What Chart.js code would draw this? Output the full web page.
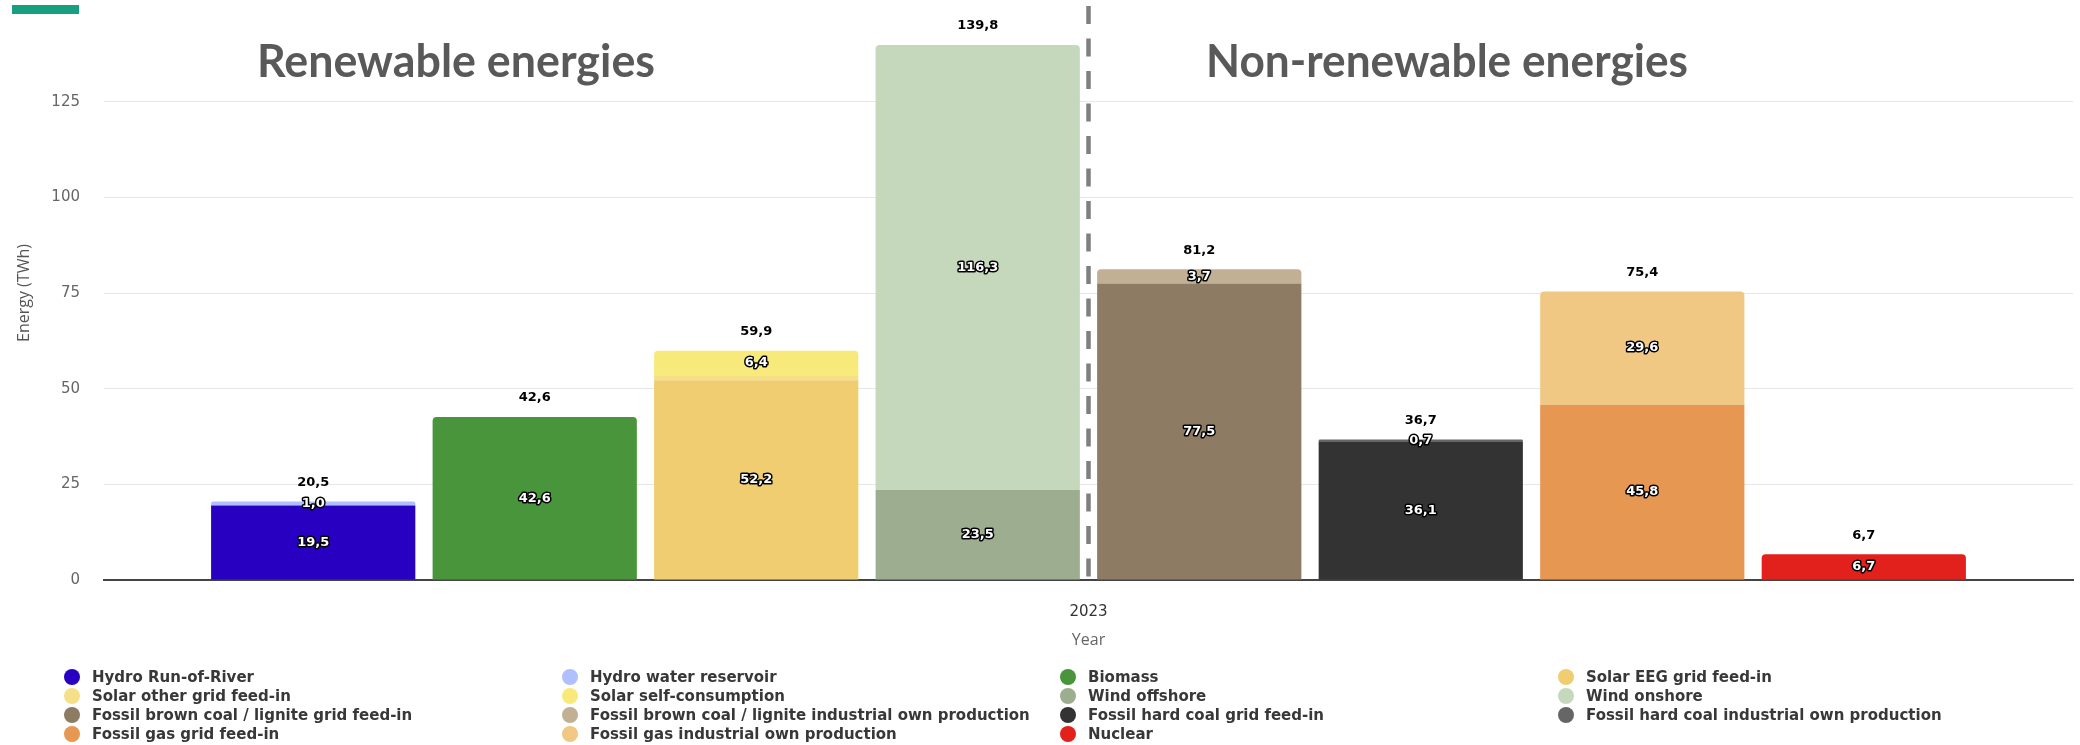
<!DOCTYPE html>
<html>
<head>
<meta charset="utf-8">
<script src="https://cdn.jsdelivr.net/npm/chart.js@4.4.1/dist/chart.umd.min.js"></script>
<style>
  html, body { margin: 0; padding: 0; background: #fff; }
  #wrap { position: relative; width: 2080px; height: 745px; overflow: hidden; }
  #accent { position: absolute; left: 12px; top: 5px; width: 67px; height: 9px; background: #17a07f; }
  #legend {
    position: absolute; left: 64px; top: 667px;
    display: grid; grid-template-columns: repeat(4, 498px); grid-auto-rows: 19px;
    font: bold 15px "DejaVu Sans", sans-serif; color: #383838;
  }
  .item { display: flex; align-items: center; white-space: nowrap; }
  .dot { width: 16px; height: 16px; border-radius: 50%; margin-right: 12px; flex: none; }
</style>
</head>
<body>
<div id="wrap">
  <canvas id="chart" width="2080" height="745"></canvas>
  <div id="accent"></div>
  <div id="legend"></div>
</div>
<script>
// データ
const years = ['2023'];
const sourceNames = [
  'Hydro Run-of-River', 'Hydro water reservoir', 'Biomass', 'Solar EEG grid feed-in',
  'Solar other grid feed-in', 'Solar self-consumption', 'Wind offshore', 'Wind onshore',
  'Fossil brown coal / lignite grid feed-in', 'Fossil brown coal / lignite industrial own production',
  'Fossil hard coal grid feed-in', 'Fossil hard coal industrial own production',
  'Fossil gas grid feed-in', 'Fossil gas industrial own production', 'Nuclear'
];
const stackGroups = [
  'hydro', 'hydro', 'biomass', 'solar', 'solar', 'solar', 'wind', 'wind',
  'brown', 'brown', 'hard', 'hard', 'gas', 'gas', 'nuclear'
];
const energy2023 = [19.5, 1.0, 42.6, 52.2, 1.3, 6.4, 23.5, 116.3, 77.5, 3.7, 36.06, 0.66, 45.8, 29.6, 6.7];
const yTicks = [0, 25, 50, 75, 100, 125];
const sectionTitles = ['Renewable energies', 'Non-renewable energies'];

const sourceColors = [
  '#2800c2', '#b0c0ff', '#48953b', '#f0cd70', '#f5df88', '#f7ea7b', '#9cae8f', '#c6d8bb',
  '#8d7b63', '#c2b095', '#333333', '#666666', '#e69853', '#f0c783', '#e2211c'
];

// 数値表示（小数点はカンマ）
const fmt = v => v.toFixed(1).replace('.', ',');

// 再生可能 / 非再生可能の見出しと区切り線
const sections = {
  id: 'sections',
  afterDatasetsDraw(chart) {
    const ctx = chart.ctx;
    const area = chart.chartArea;
    const mid = chart.scales.x.getPixelForValue(0);
    ctx.save();
    ctx.strokeStyle = '#7f7f7f';
    ctx.lineWidth = 4.5;
    ctx.setLineDash([18, 14.5]);
    ctx.beginPath();
    ctx.moveTo(mid, area.top);
    ctx.lineTo(mid, area.bottom);
    ctx.stroke();
    ctx.setLineDash([]);
    ctx.fillStyle = '#595959';
    ctx.font = 'bold 46px Lato';
    ctx.textAlign = 'left';
    ctx.textBaseline = 'alphabetic';
    ctx.fillText(sectionTitles[0], 257, 77, 398);
    ctx.fillText(sectionTitles[1], 1206, 77, 482);
    ctx.restore();
  }
};

// 各区間の値と合計のラベル（重なるものは省略）
const valueLabels = {
  id: 'valueLabels',
  afterDatasetsDraw(chart) {
    const ctx = chart.ctx;
    const items = [];
    const tops = {};
    chart.data.datasets.forEach((ds, i) => {
      const bar = chart.getDatasetMeta(i).data[0];
      const v = ds.data[0];
      items.push({ x: bar.x, y: (bar.y + bar.base) / 2, text: fmt(v), rank: v, total: false });
      const t = tops[ds.stack] || (tops[ds.stack] = { sum: 0, x: bar.x, y: bar.y });
      t.sum += v;
      t.y = Math.min(t.y, bar.y);
    });
    Object.values(tops).forEach(t => {
      items.push({ x: t.x, y: t.y - 19, text: fmt(t.sum), rank: Infinity, total: true });
    });
    items.sort((a, b) => b.rank - a.rank);

    ctx.save();
    ctx.font = 'bold 13px "DejaVu Sans"';
    ctx.textAlign = 'center';
    ctx.textBaseline = 'middle';
    ctx.lineJoin = 'round';
    const placed = [];
    items.forEach(it => {
      const w = ctx.measureText(it.text).width;
      const box = { l: it.x - w / 2, r: it.x + w / 2, t: it.y - 9, b: it.y + 9 };
      if (placed.some(p => p.l < box.r && box.l < p.r && p.t < box.b && box.t < p.b)) return;
      placed.push(box);
      if (it.total) {
        ctx.fillStyle = '#000';
        ctx.fillText(it.text, it.x, it.y);
      } else {
        ctx.strokeStyle = '#000';
        ctx.lineWidth = 3;
        ctx.strokeText(it.text, it.x, it.y);
        ctx.fillStyle = '#fff';
        ctx.fillText(it.text, it.x, it.y);
      }
    });
    ctx.restore();
  }
};

const datasets = sourceNames.map((name, i) => ({
  label: name,
  data: [energy2023[i]],
  stack: stackGroups[i],
  backgroundColor: sourceColors[i],
  borderRadius: 4,
  categoryPercentage: 0.9,
  barPercentage: 0.922
}));

const chart = new Chart(document.getElementById('chart'), {
  type: 'bar',
  data: { labels: years, datasets: datasets },
  options: {
    responsive: false,
    animation: false,
    layout: { padding: { top: 6, right: 7, bottom: 95, left: 0 } },
    plugins: {
      legend: { display: false },
      tooltip: { enabled: false }
    },
    scales: {
      x: {
        stacked: true,
        afterFit: axis => { axis.height = 70; },
        grid: { display: false, drawTicks: false },
        border: { display: true, color: '#444', width: 2 },
        ticks: { padding: 23, color: '#333', font: { family: 'DejaVu Sans', size: 15 } },
        title: {
          display: true, text: 'Year', color: '#666',
          font: { family: 'Open Sans', size: 16 }, padding: { top: 10, bottom: 0 }
        }
      },
      y: {
        stacked: true,
        min: 0,
        max: 150,
        afterBuildTicks: axis => { axis.ticks = yTicks.map(v => ({ value: v })); },
        afterFit: axis => { axis.width = 104; },
        grid: { color: '#e6e6e6', drawTicks: true, tickLength: 24, tickColor: 'rgba(0,0,0,0)' },
        border: { display: false },
        ticks: { padding: 0, color: '#666', font: { family: 'DejaVu Sans', size: 15, lineHeight: 0.8 } },
        title: {
          display: true, text: 'Energy (TWh)', color: '#555',
          font: { family: 'Open Sans', size: 16 }, padding: { top: 15, bottom: 0 }
        }
      }
    }
  },
  plugins: [sections, valueLabels]
});

// 凡例（4列のグリッド）
const legendEl = document.getElementById('legend');
chart.data.datasets.forEach(ds => {
  const item = document.createElement('div');
  item.className = 'item';
  const dot = document.createElement('span');
  dot.className = 'dot';
  dot.style.background = ds.backgroundColor;
  const label = document.createElement('span');
  label.textContent = ds.label;
  item.appendChild(dot);
  item.appendChild(label);
  legendEl.appendChild(item);
});
</script>
</body>
</html>
